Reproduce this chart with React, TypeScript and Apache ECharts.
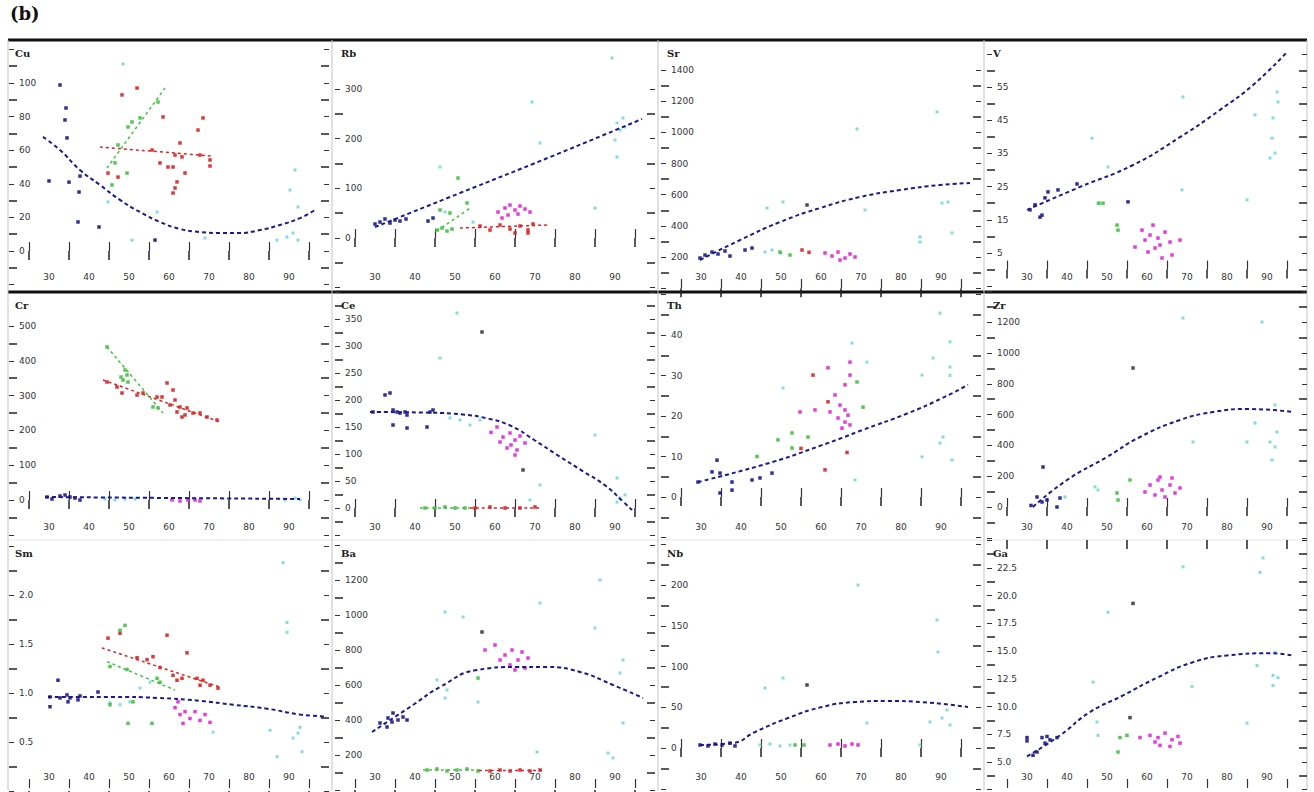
import React, { useEffect, useRef } from "react";
import * as echarts from "echarts";

type Pt = [number, number];

// ---------- tick labels ----------
const X_TICK_LABELS = ["30", "40", "50", "60", "70", "80", "90"];
const CU_Y = ["0", "20", "40", "60", "80", "100"];
const RB_Y = ["0", "100", "200", "300"];
const SR_Y = ["200", "400", "600", "800", "1000", "1200", "1400"];
const V_Y = ["5", "15", "25", "35", "45", "55"];
const CR_Y = ["0", "100", "200", "300", "400", "500"];
const CE_Y = ["0", "50", "100", "150", "200", "250", "300", "350"];
const TH_Y = ["0", "10", "20", "30", "40"];
const ZR_Y = ["0", "200", "400", "600", "800", "1000", "1200"];
const SM_Y = ["0.5", "1.0", "1.5", "2.0"];
const BA_Y = ["200", "400", "600", "800", "1000", "1200"];
const NB_Y = ["0", "50", "100", "150", "200"];
const GA_Y = ["5.0", "7.5", "10.0", "12.5", "15.0", "17.5", "20.0", "22.5"];

// ---------- Cu ----------
const CU_BLUE: Pt[] = [[32.75,98.8],[34.25,85.1],[34,78],[34.5,67.3],[30,41.7],[35,41],[37.75,44.6],[37.5,35.1],[37.25,17.3],[42.5,14.3],[56.5,6.5]];
const CU_RED: Pt[] = [[52,97],[48.25,92.9],[68.5,79.2],[58.5,79.8],[67.25,72],[62.75,64.3],[61.5,57.1],[63.25,56],[67.75,57.1],[70.25,54.2],[70.25,50.6],[57.75,52.4],[59.75,50],[61,50],[64,46.4],[62,41.1],[61,34.5],[61.5,37.5],[44.75,46.4],[47.25,44],[55.75,60.1]];
const CU_GREEN: Pt[] = [[57.25,88.7],[52.75,79.2],[50.75,76.8],[49.75,73.8],[46.5,52.4],[49.5,46.4],[47.25,63.1],[45.75,39.3]];
const CU_CYAN: Pt[] = [[48.5,111.3],[91.5,48.2],[90.25,36.3],[92.25,26.2],[92.25,6.5],[89.5,8.3],[87,6.5],[91,10.7],[69,7.7],[50.75,6.5],[57,23.2],[44.75,29.2]];
const CU_BLUE_FIT: Pt[] = [[28.5,67.9],[32.75,60.1],[37.75,48.2],[42.75,39.3],[47.75,30.4],[52.75,23.2],[57.75,17.3],[62.75,13.1],[67.75,11.3],[72.75,10.7],[77.75,10.7],[82.75,12.5],[87.75,15.5],[92.75,19.6],[96.5,24.4]];
const CU_RED_FIT: Pt[] = [[42.75,61.9],[70.75,56.5]];
const CU_GREEN_FIT: Pt[] = [[44.5,49.4],[59,97]];

// ---------- Rb ----------
const RB_BLUE: Pt[] = [[31.25,32.2],[32.5,38.3],[33.75,30.2],[35,36.2],[36.25,34.2],[37.75,38.3],[43.25,34.2],[44.5,40.3],[30,28.2]];
const RB_BLUE_FIT: Pt[] = [[30,22.1],[51.25,90.6],[73.75,163],[96.75,239.6]];
const RB_GREEN: Pt[] = [[45.5,16.1],[46.75,20.1],[48,14.1],[49.25,18.1],[50.75,120.8],[46.25,56.4],[48.75,50.3],[53,70.5]];
const RB_GREEN_FIT: Pt[] = [[45.5,14.1],[53.75,60.4]];
const RB_RED: Pt[] = [[56.25,24.2],[58.75,16.1],[61.25,26.2],[63.75,18.1],[65,10.1],[66.25,24.2],[68.25,16.1],[69.5,28.2],[68.25,10.1]];
const RB_RED_FIT: Pt[] = [[51.25,20.1],[73.25,26.2]];
const RB_MAGENTA: Pt[] = [[60.75,52.3],[62.5,60.4],[63.75,66.4],[65,56.4],[66.25,64.4],[67.5,58.4],[68.75,52.3],[63.25,46.3],[65.75,48.3],[61.75,40.3]];
const RB_CYAN: Pt[] = [[69.25,273.8],[71.25,191.3],[90.5,231.5],[91.25,217.4],[92.5,223.5],[90,197.3],[90.5,163],[92,241.6],[89.25,362.4],[85,60.4],[46.25,143],[47.5,52.3],[54.5,32]];

// ---------- Sr ----------
const SR_BLUE: Pt[] = [[29.75,193.6],[31,212.8],[32.75,232],[34.25,219.3],[36,238.5],[37.25,206.4],[41,244.9],[42.75,257.8]];
const SR_BLUE_FIT: Pt[] = [[29.75,180.7],[39.75,309],[49.75,424.6],[59.75,514.5],[69.75,585.1],[79.75,630],[89.75,662.1],[97.25,675]];
const SR_CYAN: Pt[] = [[69,1021.6],[89,1130.7],[91.75,553],[90.25,546],[92.75,354],[84.75,328.4],[84.75,296],[46.5,514.5],[50.5,553],[71,501.7],[46,232],[47.75,245],[50,225]];
const SR_MAGENTA: Pt[] = [[61,225.7],[62.75,206.4],[64.25,232],[66,193.6],[67.25,219.3],[68.5,200],[64.75,180.7]];
const SR_GREEN: Pt[] = [[49.75,232],[52.25,212.8]];
const SR_RED: Pt[] = [[55.25,245],[57,230]];
const SR_DARK: Pt[] = [[56.5,533.8]];

// ---------- V ----------
const V_BLUE: Pt[] = [[30.75,18],[32,19.5],[34.5,21.6],[35.25,23.4],[37.75,24],[33.75,16.4],[33.25,15.8],[42.5,25.8],[55.25,20.4]];
const V_BLUE_FIT: Pt[] = [[30,18],[43.25,24.9],[56.5,31.5],[68.25,39.9],[78.25,48.1],[86.5,55.6],[95,65.5]];
const V_GREEN: Pt[] = [[52.5,13.4],[49,20],[48,20],[52.75,11.9]];
const V_MAGENTA: Pt[] = [[59.5,8.9],[60.75,10.4],[62.75,9.5],[63.25,7.4],[64.5,11.3],[65.75,8.3],[62,6.5],[60.25,5.3],[66.25,4.4],[63.75,3.5],[57,6.8],[68.25,8.9],[58.75,11.9],[61.5,13.4]];
const V_CYAN: Pt[] = [[69,52],[92.5,53.5],[92.75,50.5],[91.5,45.7],[91.25,39.6],[90.75,33.6],[92,35.1],[87,46.6],[85,21],[68.75,24],[46.25,39.6],[50.25,30.9],[47.75,20]];

// ---------- Cr ----------
const CR_RED: Pt[] = [[44.5,339],[47,324.7],[48.25,307.5],[52,301.7],[53.5,307.5],[57,296],[58.25,296],[59.5,336.2],[61,316.1],[61.5,287.4],[62.75,267.2],[64.5,264.4],[64,244.3],[66,250],[67.75,250],[69.5,238.5],[72,229.9],[60.25,273],[62,252.9],[63.25,238.5]];
const CR_RED_FIT: Pt[] = [[43.5,344.8],[72.75,224.1]];
const CR_GREEN: Pt[] = [[49,373.6],[49.5,359.2],[48.5,344.8],[49.75,339],[48,353.4],[56,267.2],[57.25,264.4],[44.5,439.7]];
const CR_GREEN_FIT: Pt[] = [[44.5,439.7],[58.5,250]];
const CR_BLUE: Pt[] = [[29.5,8.6],[30.75,2.9],[32.75,11.5],[34,14.4],[35.25,8.6],[36.5,5.7],[37.75,0]];
const CR_BLUE_FIT: Pt[] = [[29,8.6],[92.75,2.9]];
const CR_MAGENTA: Pt[] = [[60.75,0],[62.75,-2.9],[64.75,0],[66.5,0],[67.75,-2.9]];
const CR_CYAN: Pt[] = [[44,2.9],[46.5,0],[49,2.9],[51.5,2.9],[89,0],[91.5,5.7],[92.75,0]];

// ---------- Ce ----------
const CE_BLUE: Pt[] = [[32.5,209.3],[33.75,213],[29.5,177.8],[34.5,181.5],[35.5,177.8],[36.25,175.9],[37.5,177.8],[38,172.2],[43.75,177.8],[44.5,181.5],[34.5,153.7],[38,148.1],[43,150]];
const CE_BLUE_FIT: Pt[] = [[28.75,177.8],[43.75,176.5],[52,173],[58,166],[64,152],[70,125],[76,96],[82,68],[87.5,42],[92,12],[94.25,-3.7]];
const CE_MAGENTA: Pt[] = [[62,131.5],[63.75,138.9],[65,125.9],[66.25,133.3],[64,116.7],[65.5,107.4],[63,111.1],[67.5,120.4],[61.25,122.2],[65,98.1],[59,140],[60.5,150]];
const CE_CYAN: Pt[] = [[50.5,361.1],[46.25,277.8],[85,135.2],[90.5,55.6],[71.25,42.6],[68.75,14.8],[91.25,18.5],[92.5,24.1],[90.5,11],[48.75,166.7],[51.25,163],[53.75,153.7],[56.25,163]];
const CE_GREEN: Pt[] = [[42.5,0],[45,0],[47.5,1.9],[50,0],[52.5,0]];
const CE_RED: Pt[] = [[55,0],[58.75,1.9],[62.5,0],[66.25,0],[70,1.9]];
const CE_GREEN_FIT: Pt[] = [[41.25,0],[53.75,0]];
const CE_RED_FIT: Pt[] = [[53.75,0],[71.25,0]];
const CE_DARK: Pt[] = [[56.75,325.9],[67,70.4]];

// ---------- Th ----------
const TH_BLUE: Pt[] = [[29.25,3.7],[34,9.1],[34.75,5.9],[32.75,6.2],[34.75,1],[37.75,1.7],[37.75,3.7],[42.75,4.2],[44.75,4.7],[47.75,5.9]];
const TH_BLUE_FIT: Pt[] = [[29.25,3.7],[47.75,8.6],[60.25,12.8],[65.25,14.6],[70.25,16.5],[81.75,20.7],[90.25,24.4],[96.75,27.7]];
const TH_MAGENTA: Pt[] = [[63.5,25.2],[64.75,22.7],[66,21.5],[66.75,20.2],[64.25,19.5],[66,18.5],[67.25,17.8],[62.25,21],[65.25,17],[58.5,21.5],[66,27.7],[67.25,30.1],[54.75,21],[61.75,31.9],[67.25,33.3]];
const TH_CYAN: Pt[] = [[89.75,45.4],[92.25,38.3],[92.25,32.1],[92.25,30],[88,34.3],[85.25,30.1],[90.5,14.8],[89.75,13.3],[85.25,9.9],[92.75,9.1],[71.5,33.3],[68.5,4.2],[67.75,38],[50.5,26.9]];
const TH_GREEN: Pt[] = [[49.25,14.1],[52.75,15.8],[56.75,14.8],[52.75,12.1],[69,28.4],[70.5,22.2],[44,10]];
const TH_RED: Pt[] = [[58,30.1],[61.75,23.5],[61,6.7],[55,12],[66.5,11]];

// ---------- Zr ----------
const ZR_BLUE: Pt[] = [[32.5,64.9],[35,45.5],[37.5,0],[33.75,32.5],[34,259.7],[38.25,58.4],[31,10]];
const ZR_BLUE_FIT: Pt[] = [[31.5,0],[40,175.3],[50,324.7],[58.25,454.5],[68.25,565],[76.5,616.9],[85,636.4],[96.5,616.9]];
const ZR_MAGENTA: Pt[] = [[60.75,142.9],[62.75,175.3],[63.75,110.4],[65.75,142.9],[67,90.9],[64.5,64.9],[62,77.9],[66.25,188.3],[59.5,97.4],[68.25,123.4],[63.25,194.8]];
const ZR_CYAN: Pt[] = [[69,1227],[88.75,1201],[71.5,422],[85,422],[87,545.5],[92,662.3],[92.5,487],[92,390],[90.75,422],[91.25,305],[47,130],[47.75,110],[39.5,65]];
const ZR_GREEN: Pt[] = [[52.5,90.9],[52.75,45.5],[55.75,175.3]];
const ZR_DARK: Pt[] = [[56.5,902.6]];

// ---------- Sm ----------
const SM_BLUE: Pt[] = [[30.25,0.96],[32.75,0.95],[34.5,0.98],[35.25,0.95],[37.75,0.97],[32.25,1.13],[30.25,0.86],[34.75,0.91],[37.25,0.93],[42.25,1.01]];
const SM_BLUE_FIT: Pt[] = [[29.75,0.96],[46.5,0.96],[57,0.95],[67.75,0.92],[76,0.88],[84.5,0.84],[92.75,0.78],[99.5,0.76]];
const SM_RED: Pt[] = [[44.75,1.56],[47.75,1.61],[59.5,1.59],[64.5,1.41],[52,1.36],[54.5,1.34],[56,1.37],[61,1.18],[62,1.13],[63.25,1.15],[67,1.15],[68.5,1.13],[70.25,1.08],[67.75,1.08],[72.25,1.05],[57.75,1.26]];
const SM_RED_FIT: Pt[] = [[43.25,1.46],[72.75,1.06]];
const SM_GREEN: Pt[] = [[49,1.69],[47.75,1.64],[45.25,1.27],[49.5,1.24],[57,1.15],[57.75,1.11],[51,0.91],[49.75,0.69],[55.75,0.69],[45.25,0.88]];
const SM_GREEN_FIT: Pt[] = [[44.5,1.32],[61.5,1.03]];
const SM_MAGENTA: Pt[] = [[61.5,0.85],[62.75,0.78],[64,0.81],[65.25,0.74],[66.5,0.81],[67.75,0.72],[69,0.78],[70.25,0.7],[63.5,0.69],[62.25,0.91]];
const SM_CYAN: Pt[] = [[88.5,2.33],[89.5,1.72],[89.5,1.62],[92.75,0.65],[92.25,0.59],[91,0.54],[93.25,0.4],[87,0.35],[85.25,0.62],[71,0.6],[52.75,1.05],[55.25,1.11],[45.25,0.9],[47.75,0.88],[50.25,0.91]];

// ---------- Ba ----------
const BA_BLUE: Pt[] = [[31.25,382.9],[33,360],[34.25,388.6],[35.75,400],[37,417],[38,400],[33.25,411.4],[34.5,440]];
const BA_BLUE_FIT: Pt[] = [[29.25,331.4],[39.5,485.7],[46.25,588.6],[55.5,685.7],[65.5,702.9],[73,702.9],[81.25,674.3],[89.5,600],[97,525.7]];
const BA_MAGENTA: Pt[] = [[62.5,771.4],[64.25,800],[65.75,742.9],[66.75,788.6],[68.25,754.3],[63.75,714.3],[65,685.7],[67.5,697.1],[61.25,742.9],[60,828.6],[57.5,800]];
const BA_CYAN: Pt[] = [[71.25,1068.6],[85,925.7],[86.25,1200],[92,742.9],[91.25,668.6],[92,382.9],[88.25,211.4],[89.5,182.9],[70.5,217.1],[47.5,1017],[52,988.6],[48,571.4],[47.5,525.7],[55.75,502.9],[45.5,628.6]];
const BA_GREEN: Pt[] = [[55.75,640],[43,114.3],[45.5,120],[48,108.6],[50.5,114.3],[53,120],[55.75,108.6]];
const BA_GREEN_FIT: Pt[] = [[42,114.3],[56,114.3]];
const BA_RED: Pt[] = [[58.75,108.6],[61.25,114.3],[63.75,108.6],[66.25,114.3],[68.75,108.6],[71.25,114.3]];
const BA_RED_FIT: Pt[] = [[56,111],[72,111]];
const BA_DARK: Pt[] = [[56.75,902.9]];

// ---------- Nb ----------
const NB_BLUE: Pt[] = [[29.75,3.7],[31.75,2.5],[33.5,4.9],[35.25,3.7],[37.25,6.1],[38.5,2.5]];
const NB_BLUE_FIT: Pt[] = [[29.75,3.7],[38,6.1],[43.5,19.6],[51.75,36.8],[60.25,50.3],[68.5,56.4],[76.75,57.7],[85,56.4],[96.75,50.3]];
const NB_CYAN: Pt[] = [[44.75,3.7],[47.25,4.9],[49.75,2.5],[52.25,3.7],[69.25,200],[89,157],[89.25,117.8],[91.5,46.6],[90.25,36.8],[92.25,28.2],[87.25,31.9],[84.75,3.7],[71.5,30.7],[50.5,85.9],[46,73.6]];
const NB_GREEN: Pt[] = [[53.5,3.7],[55.75,3.7]];
const NB_MAGENTA: Pt[] = [[62.25,3.7],[64.25,4.9],[66,2.5],[67.75,4.9],[69.25,3.7]];
const NB_DARK: Pt[] = [[56.5,77.3]];

// ---------- Ga ----------
const GA_BLUE: Pt[] = [[33.75,7.2],[35,7.3],[35.75,7],[34.5,6.7],[30,7.2],[30,6.9],[32.5,5.9],[31.5,5.6],[37.5,7.2]];
const GA_BLUE_FIT: Pt[] = [[30,5.5],[38.25,7.4],[45.75,9.5],[54,11],[62.5,12.6],[71.5,14],[80,14.6],[90.75,14.8],[96.5,14.6]];
const GA_MAGENTA: Pt[] = [[60.75,7.4],[62.75,7.2],[64.5,7.6],[66.25,7],[67.75,7.3],[63.25,6.5],[65.75,6.4],[62,6.8],[68.25,6.7],[58.25,7.2]];
const GA_CYAN: Pt[] = [[69,22.6],[89,23.4],[88.25,22.1],[50.25,18.5],[46.5,12.2],[47.5,8.6],[47.75,7.4],[71.25,11.8],[87.5,13.7],[91.5,12.8],[91.5,11.9],[92,14.9],[92.75,12.6],[85,8.5]];
const GA_GREEN: Pt[] = [[52.75,5.9],[53.25,7.2],[55,7.4]];
const GA_DARK: Pt[] = [[56.5,19.3],[55.75,9]];

type Group = { [k: string]: Pt[] };
type Panel = { name: string; yLabels: string[]; points: Group; fits: Group };

const PANELS: Panel[] = [
  { name: "Cu", yLabels: CU_Y, points: { cyan: CU_CYAN, blue: CU_BLUE, red: CU_RED, green: CU_GREEN }, fits: { blue: CU_BLUE_FIT, red: CU_RED_FIT, green: CU_GREEN_FIT } },
  { name: "Rb", yLabels: RB_Y, points: { cyan: RB_CYAN, blue: RB_BLUE, green: RB_GREEN, red: RB_RED, magenta: RB_MAGENTA }, fits: { blue: RB_BLUE_FIT, green: RB_GREEN_FIT, red: RB_RED_FIT } },
  { name: "Sr", yLabels: SR_Y, points: { cyan: SR_CYAN, blue: SR_BLUE, magenta: SR_MAGENTA, green: SR_GREEN, red: SR_RED, dark: SR_DARK }, fits: { blue: SR_BLUE_FIT } },
  { name: "V", yLabels: V_Y, points: { cyan: V_CYAN, blue: V_BLUE, green: V_GREEN, magenta: V_MAGENTA }, fits: { blue: V_BLUE_FIT } },
  { name: "Cr", yLabels: CR_Y, points: { cyan: CR_CYAN, blue: CR_BLUE, red: CR_RED, green: CR_GREEN, magenta: CR_MAGENTA }, fits: { blue: CR_BLUE_FIT, red: CR_RED_FIT, green: CR_GREEN_FIT } },
  { name: "Ce", yLabels: CE_Y, points: { cyan: CE_CYAN, blue: CE_BLUE, magenta: CE_MAGENTA, green: CE_GREEN, red: CE_RED, dark: CE_DARK }, fits: { blue: CE_BLUE_FIT, green: CE_GREEN_FIT, red: CE_RED_FIT } },
  { name: "Th", yLabels: TH_Y, points: { cyan: TH_CYAN, blue: TH_BLUE, magenta: TH_MAGENTA, green: TH_GREEN, red: TH_RED }, fits: { blue: TH_BLUE_FIT } },
  { name: "Zr", yLabels: ZR_Y, points: { cyan: ZR_CYAN, blue: ZR_BLUE, magenta: ZR_MAGENTA, green: ZR_GREEN, dark: ZR_DARK }, fits: { blue: ZR_BLUE_FIT } },
  { name: "Sm", yLabels: SM_Y, points: { cyan: SM_CYAN, blue: SM_BLUE, red: SM_RED, green: SM_GREEN, magenta: SM_MAGENTA }, fits: { blue: SM_BLUE_FIT, red: SM_RED_FIT, green: SM_GREEN_FIT } },
  { name: "Ba", yLabels: BA_Y, points: { cyan: BA_CYAN, blue: BA_BLUE, magenta: BA_MAGENTA, green: BA_GREEN, red: BA_RED, dark: BA_DARK }, fits: { blue: BA_BLUE_FIT, green: BA_GREEN_FIT, red: BA_RED_FIT } },
  { name: "Nb", yLabels: NB_Y, points: { cyan: NB_CYAN, blue: NB_BLUE, green: NB_GREEN, magenta: NB_MAGENTA, dark: NB_DARK }, fits: { blue: NB_BLUE_FIT } },
  { name: "Ga", yLabels: GA_Y, points: { cyan: GA_CYAN, blue: GA_BLUE, magenta: GA_MAGENTA, green: GA_GREEN, dark: GA_DARK }, fits: { blue: GA_BLUE_FIT } },
];

// ---------- layout (positions / scales) ----------
const COL_LEFT = [9, 335, 661, 987];
const PANEL_W = 320;
const ROW_TOP = [40, 292, 540];
const ROW_BOTTOM = [288, 538, 788];
const LAYOUT = [
  { col: 0, row: 0, yMin: -20, yMax: 120, interval: 20, pMin: 284.6, pMax: 49.4 },
  { col: 1, row: 0, yMin: -100, yMax: 300, interval: 100, pMin: 287.7, pMax: 89 },
  { col: 2, row: 0, yMin: 0, yMax: 1400, interval: 200, pMin: 288.2, pMax: 70 },
  { col: 3, row: 0, yMin: -5, yMax: 65, interval: 10, pMin: 286.2, pMax: 53.8 },
  { col: 0, row: 1, yMin: -100, yMax: 500, interval: 100, pMin: 534.8, pMax: 326 },
  { col: 1, row: 1, yMin: -50, yMax: 400, interval: 50, pMin: 535, pMax: 292 },
  { col: 2, row: 1, yMin: -10, yMax: 50, interval: 10, pMin: 537.5, pMax: 294.5 },
  { col: 3, row: 1, yMin: -200, yMax: 1400, interval: 200, pMin: 537.8, pMax: 291.4 },
  { col: 0, row: 2, yMin: 0, yMax: 2.5, interval: 0.5, pMin: 791, pMax: 546 },
  { col: 1, row: 2, yMin: 0, yMax: 1400, interval: 200, pMin: 790, pMax: 545 },
  { col: 2, row: 2, yMin: -50, yMax: 250, interval: 50, pMin: 788.75, pMax: 544.25 },
  { col: 3, row: 2, yMin: 2.5, yMax: 25, interval: 2.5, pMin: 789.7, pMax: 540.2 },
];

const COLORS: { [k: string]: string } = {
  blue: "#1a1a8c",
  red: "#d82424",
  green: "#44c044",
  magenta: "#e028d8",
  cyan: "#5ad2d2",
  dark: "#3a3a3a",
};

function buildOption() {
  const grid: any[] = [];
  const xAxis: any[] = [];
  const yAxis: any[] = [];
  const series: any[] = [];
  const graphic: any[] = [];

  PANELS.forEach((p, i) => {
    const L = LAYOUT[i];
    const left = COL_LEFT[L.col];
    grid.push({ left, width: PANEL_W, top: L.pMax, height: L.pMin - L.pMax });
    const xLabelVals = X_TICK_LABELS.map(Number);
    xAxis.push({
      gridIndex: i, type: "value", position: "bottom", min: 20, max: 100, interval: 10,
      offset: ROW_BOTTOM[L.row] - L.pMin,
      axisLine: { show: false },
      axisTick: { show: false, inside: true },
      minorTick: { show: true, splitNumber: 2, length: 9, lineStyle: { color: "#333", width: 1.2 } },
      splitLine: { show: false }, minorSplitLine: { show: false },
      axisLabel: {
        inside: true, margin: 7, fontSize: 9, color: "#333", fontFamily: "DejaVu Sans",
        formatter: (v: number) => { const k = xLabelVals.indexOf(Math.round(v)); return k >= 0 ? X_TICK_LABELS[k] : ""; },
      },
    });
    xAxis.push({
      gridIndex: i, type: "value", position: "top", min: 20, max: 100, interval: 10,
      offset: L.pMax - ROW_TOP[L.row],
      axisLine: { show: false },
      axisTick: { show: false, inside: true },
      minorTick: { show: true, splitNumber: 2, length: 9, lineStyle: { color: "#222", width: 1.5 } },
      splitLine: { show: false },
      axisLabel: { show: false },
    });
    const labelVals = p.yLabels.map(Number);
    const yCommon = {
      gridIndex: i, type: "value", min: L.yMin, max: L.yMax, interval: L.interval,
      axisLine: { show: false },
      splitLine: { show: false }, minorSplitLine: { show: false },
      minorTick: { show: true, splitNumber: 2, length: 8, lineStyle: { color: "#222", width: 1.5 } },
    };
    yAxis.push({
      ...yCommon, position: "left",
      axisTick: { show: true, inside: true, length: 5, lineStyle: { color: "#333" } },
      axisLabel: {
        inside: true, margin: 10, fontSize: 9, color: "#333", fontFamily: "DejaVu Sans",
        formatter: (v: number) => { const k = labelVals.findIndex((u) => Math.abs(u - v) < 1e-6); return k >= 0 ? p.yLabels[k] : ""; },
      },
    });
    yAxis.push({
      ...yCommon, position: "right",
      axisTick: { show: true, inside: true, length: 5, lineStyle: { color: "#333" } },
      axisLabel: { show: false },
    });

    Object.keys(p.points).forEach((c) => {
      series.push({
        type: "scatter", xAxisIndex: 2 * i, yAxisIndex: 2 * i, data: p.points[c], clip: false,
        symbol: "rect", symbolSize: c === "cyan" ? 3 : 3.5,
        itemStyle: { color: COLORS[c], opacity: c === "cyan" ? 0.75 : 0.9 },
        z: 2,
      });
    });
    Object.keys(p.fits).forEach((c) => {
      series.push({
        type: "line", xAxisIndex: 2 * i, yAxisIndex: 2 * i, data: p.fits[c], clip: false,
        showSymbol: false, smooth: true,
        lineStyle: { color: COLORS[c], width: c === "blue" ? 2 : 1.5, type: c === "blue" ? [4, 3] : [3, 3] },
        z: 3,
      });
    });

    graphic.push({
      type: "text", left: left + 6, top: ROW_TOP[L.row] + 8,
      style: { text: p.name, font: "bold 10px 'DejaVu Serif'", fill: "#222" },
    });
  });

  // frame
  [40, 292].forEach((y) =>
    graphic.push({ type: "line", shape: { x1: 8, y1: y, x2: 1307, y2: y }, style: { stroke: "#111", lineWidth: 3 } })
  );
  graphic.push({ type: "line", shape: { x1: 8, y1: 540, x2: 1307, y2: 540 }, style: { stroke: "#e4e4e4", lineWidth: 1 } });
  [8, 332, 658, 984, 1307].forEach((x) =>
    graphic.push({ type: "line", shape: { x1: x, y1: 40, x2: x, y2: 790 }, style: { stroke: "#c4c4c4", lineWidth: 1 } })
  );
  graphic.push({ type: "text", left: 10, top: 4, style: { text: "(b)", font: "bold 18px 'DejaVu Serif'", fill: "#111" } });

  return { animation: false, backgroundColor: "#fff", grid, xAxis, yAxis, series, graphic };
}

export default function App() {
  const ref = useRef<HTMLDivElement>(null);
  useEffect(() => {
    const chart = echarts.init(ref.current!, null, { renderer: "svg" });
    chart.setOption(buildOption());
    return () => chart.dispose();
  }, []);
  return (
    <div
      ref={ref}
      style={{ position: "fixed", left: 0, top: 0, width: 1314, height: 792, background: "#fff" }}
    />
  );
}
